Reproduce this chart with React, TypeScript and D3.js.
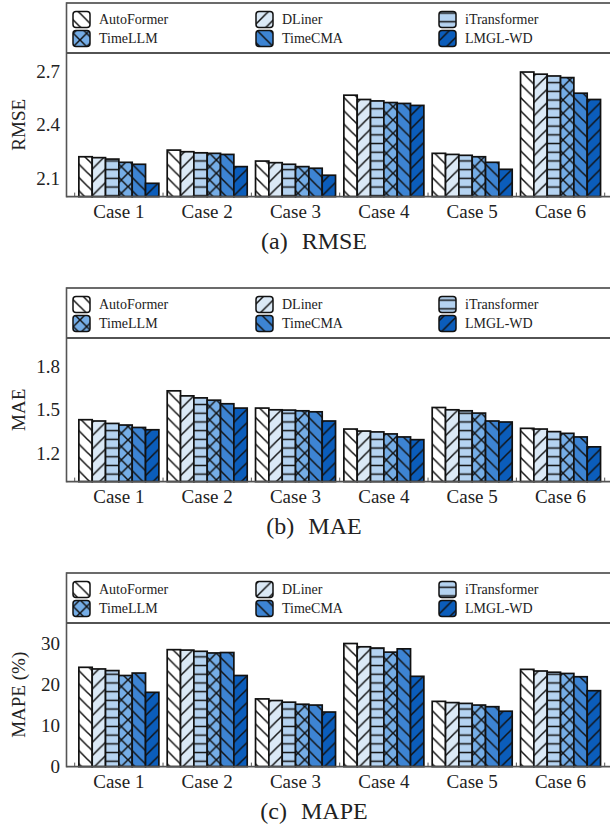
import React from 'react';
import * as d3 from 'd3';

const cases = ['Case 1', 'Case 2', 'Case 3', 'Case 4', 'Case 5', 'Case 6'];
const models = ['AutoFormer', 'DLiner', 'iTransformer', 'TimeLLM', 'TimeCMA', 'LMGL-WD'];
const colors = ['#ffffff', '#dbe9f6', '#b5d3f1', '#75ade6', '#3d84d3', '#0b5dbb'];
const hatches = ['back', 'fwd', 'horiz', 'cross', 'back', 'fwd'];

// one row per case, one value per model
const rmse = [
  [2.222, 2.217, 2.209, 2.191, 2.18, 2.074],
  [2.259, 2.25, 2.244, 2.241, 2.235, 2.167],
  [2.198, 2.189, 2.18, 2.167, 2.158, 2.119],
  [2.565, 2.541, 2.533, 2.524, 2.519, 2.508],
  [2.241, 2.235, 2.23, 2.222, 2.191, 2.152],
  [2.694, 2.682, 2.672, 2.663, 2.576, 2.541],
];
const mae = [
  [1.431, 1.422, 1.405, 1.394, 1.377, 1.361],
  [1.632, 1.597, 1.583, 1.567, 1.542, 1.512],
  [1.512, 1.5, 1.498, 1.493, 1.486, 1.422],
  [1.366, 1.352, 1.346, 1.332, 1.311, 1.292],
  [1.516, 1.5, 1.493, 1.477, 1.422, 1.415],
  [1.371, 1.366, 1.348, 1.336, 1.311, 1.242],
];
const mape = [
  [24.2, 23.8, 23.4, 22.2, 22.8, 18.1],
  [28.5, 28.4, 28.1, 27.7, 27.8, 22.2],
  [16.5, 16.1, 15.7, 15.2, 15.0, 13.3],
  [30.0, 29.2, 28.9, 27.9, 28.7, 22.0],
  [15.9, 15.6, 15.4, 15.0, 14.6, 13.5],
  [23.7, 23.3, 23.0, 22.7, 21.9, 18.5],
];

const rmseTicks = [2.1, 2.4, 2.7];
const maeTicks = [1.2, 1.5, 1.8];
const mapeTicks = [0, 10, 20, 30];

const panels = [
  { tag: '(a)', name: 'RMSE', ylabel: 'RMSE', values: rmse, domain: [2.0, 2.8], ticks: rmseTicks, fmt: d3.format('.1f') },
  { tag: '(b)', name: 'MAE', ylabel: 'MAE', values: mae, domain: [1.0, 2.0], ticks: maeTicks, fmt: d3.format('.1f') },
  { tag: '(c)', name: 'MAPE', ylabel: 'MAPE (%)', values: mape, domain: [0, 35], ticks: mapeTicks, fmt: d3.format('d') },
];

const W = 610;
const H = 825;
const axisLeft = 66.5;
const axisRight = 614;
const font = '"Liberation Serif", "Times New Roman", serif';

const x0 = d3.scaleBand<string>().domain(cases).range([74.7, 604.7]).paddingInner(0).paddingOuter(0);
const x1 = d3.scaleBand<string>().domain(models).range([0, x0.bandwidth()]).paddingInner(0).paddingOuter(0.3125);

const S = 13.33;
const HS = 8.7;

function HatchDefs() {
  const ln = { stroke: '#111', strokeWidth: 1.5, fill: 'none' };
  return (
    <defs>
      <pattern id="h-back" patternUnits="userSpaceOnUse" width={S} height={S}>
        <path d={`M0,0L${S},${S}M-2,${S - 2}L2,${S + 2}M${S - 2},-2L${S + 2},2`} style={ln} />
      </pattern>
      <pattern id="h-fwd" patternUnits="userSpaceOnUse" width={S} height={S}>
        <path d={`M0,${S}L${S},0M-2,2L2,-2M${S - 2},${S + 2}L${S + 2},${S - 2}`} style={ln} />
      </pattern>
      <pattern id="h-horiz" patternUnits="userSpaceOnUse" width={HS} height={HS}>
        <path d={`M0,${HS / 2}L${HS},${HS / 2}`} style={ln} />
      </pattern>
      <pattern id="h-cross" patternUnits="userSpaceOnUse" width={S} height={S}>
        <path d={`M0,0L${S},${S}M0,${S}L${S},0`} style={ln} />
      </pattern>
    </defs>
  );
}

function Panel({ p, i }: { p: any; i: number }) {
  const top = 3 + i * 285;
  const plotTop = top + 50;
  const plotBottom = top + 193.6;
  const y = d3.scaleLinear().domain(p.domain).range([plotBottom, plotTop]);
  const bounds = cases.map(c => x0(c) as number).concat([x0.range()[1]]);
  const legendCols = [73, 256, 439];

  return (
    <g>
      {/* bars */}
      {cases.map((c, ci) => (
        <g key={c} transform={`translate(${x0(c)},0)`}>
          {models.map((m, mi) => {
            const v = p.values[ci][mi];
            const bx = x1(m) as number;
            const by = y(v);
            const bh = plotBottom - by;
            return (
              <g key={m}>
                <rect x={bx} y={by} width={x1.bandwidth()} height={bh} fill={colors[mi]} />
                <rect x={bx} y={by} width={x1.bandwidth()} height={bh} fill={`url(#h-${hatches[mi]})`} />
                <rect x={bx} y={by} width={x1.bandwidth()} height={bh} fill="none" stroke="#111" strokeWidth={1.7} />
              </g>
            );
          })}
        </g>
      ))}

      {/* frame */}
      <line x1={axisLeft} x2={axisRight} y1={top} y2={top} stroke="#3a3a3a" strokeWidth={1.5} />
      <line x1={axisLeft} x2={axisRight} y1={plotTop} y2={plotTop} stroke="#1a1a1a" strokeWidth={1.5} />
      <line x1={axisLeft} x2={axisRight} y1={plotBottom} y2={plotBottom} stroke="#555" strokeWidth={1.6} />
      <line x1={axisLeft} x2={axisLeft} y1={top - 0.75} y2={plotBottom + 0.8} stroke="#555" strokeWidth={1.6} />
      {bounds.map((b, k) => (
        <line key={k} x1={b} x2={b} y1={plotBottom} y2={plotBottom - 4} stroke="#555" strokeWidth={1} />
      ))}

      {/* y ticks */}
      {p.ticks.map((t: number) => (
        <text key={t} x={60} y={y(t)} dy="0.35em" textAnchor="end" fontFamily={font} fontSize={19} fill="#222">
          {p.fmt(t)}
        </text>
      ))}
      <text transform={`translate(25,${(plotTop + plotBottom) / 2}) rotate(-90)`} textAnchor="middle"
        fontFamily={font} fontSize={19} fill="#222">{p.ylabel}</text>

      {/* x labels */}
      {cases.map(c => (
        <text key={c} x={(x0(c) as number) + x0.bandwidth() / 2} y={plotBottom + 21.5} textAnchor="middle"
          fontFamily={font} fontSize={19} fill="#222">{c}</text>
      ))}

      {/* caption */}
      <text x={314} y={plotBottom + 52} textAnchor="middle" fontFamily={font} fontSize={24} fill="#222">
        {p.tag}<tspan dx={14}>{p.name}</tspan>
      </text>

      {/* legend */}
      {models.map((m, mi) => {
        const lx = legendCols[mi % 3];
        const ly = top + (mi < 3 ? 8.5 : 27.5);
        return (
          <g key={m}>
            <rect x={lx} y={ly} width={17} height={16} rx={3} fill={colors[mi]} />
            <rect x={lx} y={ly} width={17} height={16} rx={3} fill={`url(#h-${hatches[mi]})`} />
            <rect x={lx} y={ly} width={17} height={16} rx={3} fill="none" stroke="#111" strokeWidth={1.5} />
            <text x={lx + 26} y={ly + 8} dy="0.35em" fontFamily={font} fontSize={14} fill="#222">{m}</text>
          </g>
        );
      })}
    </g>
  );
}

export default function App() {
  return (
    <svg width={W} height={H} style={{ position: 'absolute', left: 0, top: 0, background: '#fff' }}>
      <HatchDefs />
      <rect width={W} height={H} fill="#fff" />
      {panels.map((p, i) => <Panel key={p.name} p={p} i={i} />)}
    </svg>
  );
}
